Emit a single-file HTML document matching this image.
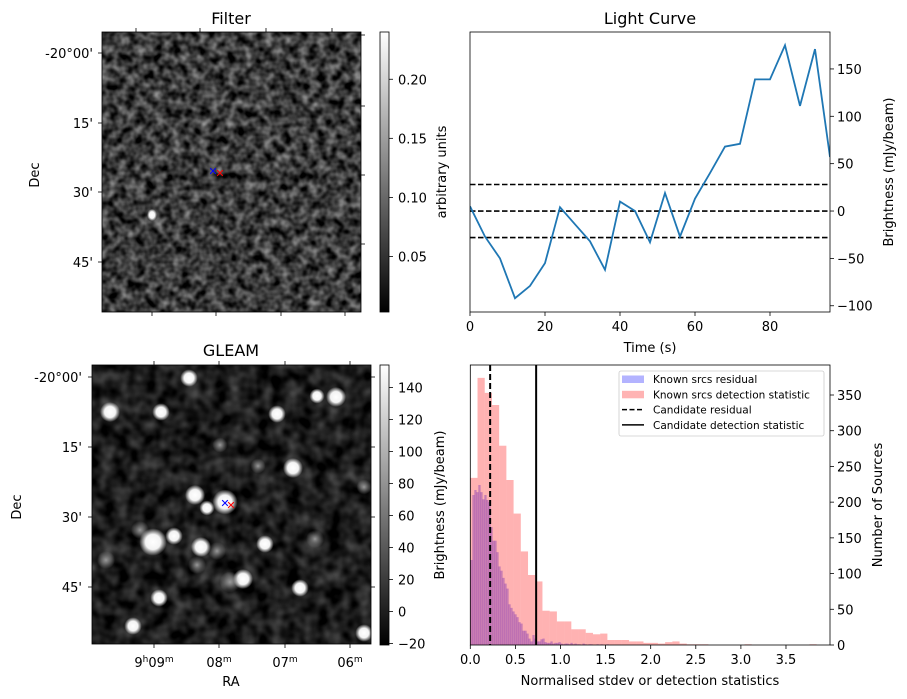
<!DOCTYPE html>
<html><head><meta charset="utf-8"><style>
html,body{margin:0;padding:0;background:#fff}
svg{display:block;font-family:"DejaVu Sans","Liberation Sans",sans-serif}
</style></head><body>
<svg id="fig" width="907" height="699" viewBox="0 0 907 699" xmlns="http://www.w3.org/2000/svg">
<defs>
 <filter id="noiseF" x="0" y="0" width="100%" height="100%" color-interpolation-filters="sRGB">
  <feTurbulence type="fractalNoise" baseFrequency="0.11" numOctaves="2" seed="7"/>
  <feColorMatrix type="matrix" values="0.9 0 0 0 -0.22  0.9 0 0 0 -0.22  0.9 0 0 0 -0.22  0 0 0 0 1"/>
 </filter>
 <filter id="noiseG" x="0" y="0" width="100%" height="100%" color-interpolation-filters="sRGB">
  <feTurbulence type="fractalNoise" baseFrequency="0.07" numOctaves="2" seed="3"/>
  <feColorMatrix type="matrix" values="0.5 0 0 0 -0.14  0.5 0 0 0 -0.14  0.5 0 0 0 -0.14  0 0 0 0 1"/>
 </filter>
 <radialGradient id="blob"><stop offset="0" stop-color="#fff"/><stop offset="0.55" stop-color="#fff" stop-opacity="0.95"/><stop offset="1" stop-color="#fff" stop-opacity="0"/></radialGradient>
 <radialGradient id="blobDim"><stop offset="0" stop-color="#999"/><stop offset="1" stop-color="#999" stop-opacity="0"/></radialGradient>
 <linearGradient id="cbar" x1="0" y1="1" x2="0" y2="0"><stop offset="0" stop-color="#000"/><stop offset="1" stop-color="#fff"/></linearGradient>
 <clipPath id="clipF"><rect x="102" y="32" width="259" height="280"/></clipPath>
 <clipPath id="clipG"><rect x="92" y="365" width="279" height="279"/></clipPath>
 <clipPath id="clipL"><rect x="470" y="32" width="360" height="280"/></clipPath>
</defs>

<g>
 <rect x="102" y="32" width="259" height="280" fill="#333" filter="url(#noiseF)"/>
 <g clip-path="url(#clipF)">
  <ellipse cx="152" cy="215" rx="5" ry="6" fill="url(#blob)"/>
  <ellipse cx="219" cy="170" rx="4" ry="4" fill="url(#blobDim)"/>
 </g>
 <rect x="102" y="32" width="259" height="280" fill="none" stroke="#000" stroke-width="0.8"/>
 <text x="231" y="24" font-size="16" text-anchor="middle">Filter</text>
 <text transform="translate(39,175) rotate(-90)" font-size="13" text-anchor="middle">Dec</text>
 <g id="filterTicks"></g>
 <text x="213" y="175" font-size="11" fill="#00f" text-anchor="middle">✕</text>
 <text x="220" y="177" font-size="11" fill="#f00" text-anchor="middle">✕</text>
 <rect x="380" y="32" width="9" height="280" fill="url(#cbar)" stroke="#000" stroke-width="0.8"/>
 <text transform="translate(446,172) rotate(-90)" font-size="13" text-anchor="middle">arbitrary units</text>
</g>

<g>
 <rect x="92" y="365" width="279" height="279" fill="#111" filter="url(#noiseG)"/>
 <g id="gleamBlobs" clip-path="url(#clipG)"></g>
 <rect x="92" y="365" width="279" height="279" fill="none" stroke="#000" stroke-width="0.8"/>
 <text x="231" y="356" font-size="16" text-anchor="middle">GLEAM</text>
 <text transform="translate(21,507) rotate(-90)" font-size="13" text-anchor="middle">Dec</text>
 <text x="231" y="686" font-size="13" text-anchor="middle">RA</text>
 <g id="gleamTicks"></g>
 <text x="225" y="507" font-size="11" fill="#00f" text-anchor="middle">✕</text>
 <text x="231" y="509" font-size="11" fill="#f00" text-anchor="middle">✕</text>
 <rect x="380" y="365" width="9" height="280" fill="url(#cbar)" stroke="#000" stroke-width="0.8"/>
 <text transform="translate(444,505) rotate(-90)" font-size="13" text-anchor="middle">Brightness (mJy/beam)</text>
</g>

<g id="lc"></g>
<g id="hist"></g>
</svg>
<script>
// ---- Light curve data ----
const lcTimes = [0,4,8,12,16,20,24,28,32,36,40,44,48,52,56,60,64,68,72,76,80,84,88,92,96];
const lcValues = [5,-27,-50,-92,-79,-55,4,-14,-32,-62,10,0,-33,19,-27,13,40,68,71,139,139,175,111,171,57];
const lcThresholds = [28,0,-28];
const lcXTicks = [0,20,40,60,80];
const lcYTicks = [-100,-50,0,50,100,150];

// ---- Histogram data ----
const histDetBinWidth = 0.08;
const histDetCounts = [234,374,353,336,279,231,184,131,98,89,48,47,33,33,22,22,17,15,16,7,7,7,5,5,3,3,2,4,5,2,1,1,1,0,0,0,0,0,1];
const histDetExtra = [[3.76,1]];
const histResBinWidth = 0.0222;
const histResCounts = [119,210,217,214,224,214,204,210,203,200,165,146,146,130,110,104,94,86,79,57,52,47,43,39,32,30,20,20,16,9,5,14,9,5,5,8,9,4,3,3,5,2,3,3,4,2,1,2,2,1,3,1,2,1,1,0,2,1,0,1,1,0,0,1,0,1,0,0,1];
const candidateResidual = 0.22;
const candidateDetection = 0.73;
const histXTicks = [0,0.5,1,1.5,2,2.5,3,3.5];
const histXTickLabels = ["0.0","0.5","1.0","1.5","2.0","2.5","3.0","3.5"];
const histYTicks = [0,50,100,150,200,250,300,350];

// ---- Image axes tick labels ----
const filterCbarTicks = [0.05,0.10,0.15,0.20];
const gleamCbarTicks = [-20,0,20,40,60,80,100,120,140];
const decLabels = ["-20°00'","15'","30'","45'"];
const raLabels = [["9","h","09","m"],["","","08","m"],["","","07","m"],["","","06","m"]];
const gleamSources = [[110,412,8,1],[161,412,7,1],[189,378,7,1],[277,414,7,1],[317,396,6,1],[336,397,8,1],[293,468,8,1],[195,495,8,1],[225,502,10,1],[207,508,6,1],[153,542,11,1],[174,536,7,1],[201,547,8,1],[140,530,6,0],[217,551,6,0],[265,544,7,1],[315,539,6,0],[243,579,8,1],[230,582,7,0],[300,588,7,1],[159,598,7,1],[133,626,7,1],[364,633,7,1],[106,560,6,0],[197,565,6,0],[220,445,5,0],[258,466,5,0],[364,487,5,0]];

const NS = "http://www.w3.org/2000/svg";
function mk(tag, attrs, parent){const e=document.createElementNS(NS,tag);for(const k in attrs)e.setAttribute(k,attrs[k]);parent.appendChild(e);return e;}
function txt(parent, x, y, s, size, anchor){const t=mk('text',{x:x,y:y,'font-size':size,'text-anchor':anchor||'start'},parent);t.textContent=s;return t;}

(function(){
 const ft=document.getElementById('filterTicks');
 const gt=document.getElementById('gleamTicks');
 const fy=[53,123,192,262], gy=[377,447,517,587];
 decLabels.forEach((lab,i)=>{
  const t1=txt(ft,93,fy[i]+5,lab,13,'end');
  
  
  mk('line',{x1:98,x2:102,y1:fy[i],y2:fy[i],stroke:'#000','stroke-width':0.8},ft);
  const t2=txt(gt,82,gy[i]+5,lab,13,'end');
  
  
  mk('line',{x1:88,x2:92,y1:gy[i],y2:gy[i],stroke:'#000','stroke-width':0.8},gt);
  mk('line',{x1:371,x2:375,y1:gy[i],y2:gy[i],stroke:'#000','stroke-width':0.8},gt);
 });
 [35,106,175,244].forEach(y=>mk('line',{x1:361,x2:365,y1:y,y2:y,stroke:'#000','stroke-width':0.8},ft));
 [136,200,266,332].forEach(x=>mk('line',{x1:x,x2:x,y1:28,y2:32,stroke:'#000','stroke-width':0.8},ft));
 [152,216,281,345].forEach(x=>mk('line',{x1:x,x2:x,y1:312,y2:316,stroke:'#000','stroke-width':0.8},ft));
 const rx=[154,219,285,350];
 rx.forEach((x,i)=>{
  mk('line',{x1:x,x2:x,y1:644,y2:648,stroke:'#000','stroke-width':0.8},gt);
  mk('line',{x1:x,x2:x,y1:361,y2:365,stroke:'#000','stroke-width':0.8},gt);
  const l=raLabels[i];
  const t=mk('text',{x:x,y:667,'font-size':13,'text-anchor':'middle'},gt);
  
  
  t.innerHTML=l[0]+(l[1]?'<tspan font-size="9" dy="-5">'+l[1]+'</tspan><tspan dy="5">'+l[2]+'</tspan>':l[2])+'<tspan font-size="9" dy="-5">'+l[3]+'</tspan>';
 });
 const fMin=0.003,fMax=0.24;
 filterCbarTicks.forEach(v=>{
  const y=312-(v-fMin)/(fMax-fMin)*280;
  mk('line',{x1:389,x2:393,y1:y,y2:y,stroke:'#000','stroke-width':0.8},ft);
  const t=txt(ft,398,y+5,v.toFixed(2),13);
  
  
 });
 const gMin=-21,gMax=154;
 gleamCbarTicks.forEach(v=>{
  const y=645-(v-gMin)/(gMax-gMin)*280;
  mk('line',{x1:389,x2:393,y1:y,y2:y,stroke:'#000','stroke-width':0.8},gt);
  const t=txt(gt,398,y+5,v<0?'\u2212'+(-v):String(v),13);
  
  
 });
 const gb=document.getElementById('gleamBlobs');
 gleamSources.forEach(s=>{
  const c=mk('circle',{cx:s[0],cy:s[1],r:s[2]*(s[3]?1.25:1.5),fill:s[3]?'url(#blob)':'url(#blobDim)'},gb);
  
  
 });
})();

(function(){
 const g=document.getElementById('lc');
 const X0=470,X1=830,Y0=32,Y1=312, xmin=0,xmax=96, ymin=-106.6,ymax=189;
 const sx=v=>X0+(v-xmin)/(xmax-xmin)*(X1-X0);
 const sy=v=>Y1-(v-ymin)/(ymax-ymin)*(Y1-Y0);
 const t=txt(g,650,24,'Light Curve',16,'middle');
 
 
 const cg=mk('g',{'clip-path':'url(#clipL)'},g);
 lcThresholds.forEach(v=>{
  const l=mk('line',{x1:X0,x2:X1,y1:sy(v),y2:sy(v),stroke:'#000','stroke-width':1.6,'stroke-dasharray':'5.5,2.5'},cg);
  
  
 });
 const pts=lcTimes.map((tv,i)=>sx(tv).toFixed(1)+','+sy(lcValues[i]).toFixed(1)).join(' ');
 const pl=mk('polyline',{points:pts,fill:'none',stroke:'#1f77b4','stroke-width':1.8},cg);
 
 
 const fr=mk('rect',{x:X0,y:Y0,width:X1-X0,height:Y1-Y0,fill:'none',stroke:'#000','stroke-width':0.8},g);
 
 
 lcXTicks.forEach(v=>{
  mk('line',{x1:sx(v),x2:sx(v),y1:Y1,y2:Y1+4,stroke:'#000','stroke-width':0.8},g);
  const tt=txt(g,sx(v),Y1+19,String(v),13,'middle');
  
  
 });
 lcYTicks.forEach(v=>{
  mk('line',{x1:X1,x2:X1+4,y1:sy(v),y2:sy(v),stroke:'#000','stroke-width':0.8},g);
  const tt=txt(g,X1+7,sy(v)+5,v<0?'\u2212'+(-v):String(v),13);
  
  
 });
 const xl=txt(g,650,352,'Time (s)',13,'middle');
 
 
 const yl=mk('text',{transform:'translate(893,172) rotate(-90)','font-size':13,'text-anchor':'middle'},g);
 yl.textContent='Brightness (mJy/beam)';
 
 
})();

(function(){
 const g=document.getElementById('hist');
 const X0=470.3,X1=830,Y0=365,Y1=645, xmin=0,xmax=3.988, ymin=0,ymax=392;
 const sx=v=>X0+(v-xmin)/(xmax-xmin)*(X1-X0);
 const sy=v=>Y1-(v-ymin)/(ymax-ymin)*(Y1-Y0);
 histResCounts.forEach((c,i)=>{
  if(!c)return;
  const r=mk('rect',{x:sx(i*histResBinWidth),y:sy(c),width:sx((i+1)*histResBinWidth)-sx(i*histResBinWidth)+0.3,height:Y1-sy(c),fill:'#0000ff','fill-opacity':0.3},g);
  
  
 });
 const det=histDetCounts.map((c,i)=>[i*histDetBinWidth,c]).concat(histDetExtra);
 det.forEach(d=>{
  if(!d[1])return;
  const r=mk('rect',{x:sx(d[0]),y:sy(d[1]),width:sx(d[0]+histDetBinWidth)-sx(d[0]),height:Y1-sy(d[1]),fill:'#ff0000','fill-opacity':0.3},g);
  
  
 });
 const l1=mk('line',{x1:sx(candidateResidual),x2:sx(candidateResidual),y1:Y0,y2:Y1,stroke:'#000','stroke-width':2,'stroke-dasharray':'6,3'},g);
 
 
 const l2=mk('line',{x1:sx(candidateDetection),x2:sx(candidateDetection),y1:Y0,y2:Y1,stroke:'#000','stroke-width':2},g);
 
 
 const fr=mk('rect',{x:X0,y:Y0,width:X1-X0,height:Y1-Y0,fill:'none',stroke:'#000','stroke-width':0.8},g);
 
 
 histXTicks.forEach((v,i)=>{
  mk('line',{x1:sx(v),x2:sx(v),y1:Y1,y2:Y1+4,stroke:'#000','stroke-width':0.8},g);
  const tt=txt(g,sx(v),Y1+19,histXTickLabels[i],13,'middle');
  
  
 });
 histYTicks.forEach(v=>{
  mk('line',{x1:X1,x2:X1+4,y1:sy(v),y2:sy(v),stroke:'#000','stroke-width':0.8},g);
  const tt=txt(g,X1+7,sy(v)+5,String(v),13);
  
  
 });
 const xl=txt(g,650,685,'Normalised stdev or detection statistics',13,'middle');
 
 
 const yl=mk('text',{transform:'translate(882,505) rotate(-90)','font-size':13,'text-anchor':'middle'},g);
 yl.textContent='Number of Sources';
 
 
 const lg=mk('g',{},g);
 
 
 mk('rect',{x:619,y:371,width:205,height:65,rx:2,fill:'#fff','fill-opacity':0.8,stroke:'#ccc','stroke-width':0.8},lg);
 const entries=[['patch','#b3b3ff','Known srcs residual'],['patch','#ffb3b3','Known srcs detection statistic'],['dash','','Candidate residual'],['solid','','Candidate detection statistic']];
 entries.forEach((e,i)=>{
  const y=379+i*15.3;
  if(e[0]==='patch') mk('rect',{x:622,y:y-3.5,width:22,height:7.5,fill:e[1]},lg);
  else mk('line',{x1:622,x2:644,y1:y,y2:y,stroke:'#000','stroke-width':1.5,'stroke-dasharray':e[0]==='dash'?'5,2.5':'none'},lg);
  const tt=txt(lg,653,y+4,e[2],10.5);
  
  
 });
})();
</script>
</body></html>
